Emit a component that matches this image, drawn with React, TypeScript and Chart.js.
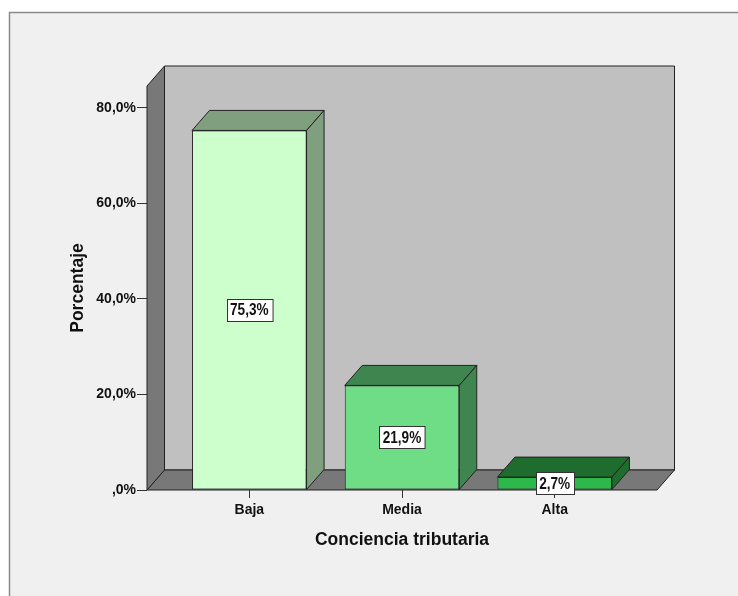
import { useEffect, useRef } from 'react';
import { Chart, registerables } from 'chart.js';

Chart.register(...registerables);

// Survey result: share of respondents by level of tax awareness
const categories = ['Baja', 'Media', 'Alta'];
const percentages = [75.3, 21.9, 2.7];
const valueLabels = ['75,3%', '21,9%', '2,7%'];
const yTickValues = [0, 20, 40, 60, 80];
const yTickLabels = [',0%', '20,0%', '40,0%', '60,0%', '80,0%'];

const frontColors = ['#CCFFCC', '#6FDC86', '#2DB84B'];
const shadeColors = ['#7F9F7F', '#3F8550', '#1E6C2E'];

const DEPTH_X = 17.5;
const DEPTH_Y = -20;
const FONT = "'Liberation Sans', Arial, Helvetica, sans-serif";
const INK = '#111111';
const EDGE = '#222222';

type Pt = [number, number];

function poly(ctx: CanvasRenderingContext2D, pts: Pt[], fill: string) {
  ctx.beginPath();
  ctx.moveTo(pts[0][0], pts[0][1]);
  for (let i = 1; i < pts.length; i++) ctx.lineTo(pts[i][0], pts[i][1]);
  ctx.closePath();
  ctx.fillStyle = fill;
  ctx.fill();
  ctx.strokeStyle = EDGE;
  ctx.lineWidth = 1;
  ctx.stroke();
}

// Grey panel behind the whole chart
const framePlugin = {
  id: 'frame',
  beforeDraw(chart: any) {
    const { ctx, width, height } = chart;
    ctx.save();
    ctx.fillStyle = '#FFFFFF';
    ctx.fillRect(0, 0, width, height);
    ctx.fillStyle = '#F0F0F0';
    ctx.fillRect(9, 12, width, height);
    ctx.strokeStyle = '#8A8A8A';
    ctx.lineWidth = 1.5;
    ctx.strokeRect(9.5, 12.5, width + 20, height + 20);
    ctx.restore();
  },
};

// Back wall, side wall and floor, then the top and side faces of each bar
const boxPlugin = {
  id: 'box3d',
  beforeDatasetsDraw(chart: any) {
    const { ctx } = chart;
    const { left, right, top, bottom } = chart.chartArea;
    const dx = DEPTH_X;
    const dy = DEPTH_Y;
    ctx.save();
    ctx.lineJoin = 'miter';
    poly(ctx, [[left + dx, top + dy], [right + dx, top + dy], [right + dx, bottom + dy], [left + dx, bottom + dy]], '#C0C0C0');
    poly(ctx, [[left, bottom], [right, bottom], [right + dx, bottom + dy], [left + dx, bottom + dy]], '#787878');
    poly(ctx, [[left, bottom], [left, top], [left + dx, top + dy], [left + dx, bottom + dy]], '#787878');

    const meta = chart.getDatasetMeta(0);
    meta.data.forEach((bar: any, i: number) => {
      const { x, y, base, width } = bar.getProps(['x', 'y', 'base', 'width'], true);
      const l = x - width / 2;
      const r = x + width / 2;
      poly(ctx, [[l, y], [r, y], [r + dx, y + dy], [l + dx, y + dy]], shadeColors[i]);
      poly(ctx, [[r, y], [r + dx, y + dy], [r + dx, base + dy], [r, base]], shadeColors[i]);
    });
    ctx.restore();
  },
  afterDatasetsDraw(chart: any) {
    const { ctx } = chart;
    const meta = chart.getDatasetMeta(0);
    const squeeze = 0.85;
    ctx.save();
    ctx.font = `bold 16px ${FONT}`;
    ctx.textAlign = 'center';
    ctx.textBaseline = 'middle';
    meta.data.forEach((bar: any, i: number) => {
      const { x, y, base } = bar.getProps(['x', 'y', 'base'], true);
      const cy = (y + base) / 2;
      const text = valueLabels[i];
      const w = ctx.measureText(text).width * squeeze + 7;
      const h = 22;
      const bx = Math.round(x - w / 2) + 0.5;
      const by = Math.round(cy - h / 2) + 0.5;
      ctx.fillStyle = '#FFFFFF';
      ctx.fillRect(bx, by, w, h);
      ctx.strokeStyle = '#333333';
      ctx.lineWidth = 1;
      ctx.strokeRect(bx, by, w, h);
      ctx.fillStyle = INK;
      ctx.save();
      ctx.translate(x, cy + 1);
      ctx.scale(squeeze, 1);
      ctx.fillText(text, 0, 0);
      ctx.restore();
    });
    ctx.restore();
  },
};

export default function App() {
  const canvasRef = useRef<HTMLCanvasElement | null>(null);

  useEffect(() => {
    const canvas = canvasRef.current;
    if (!canvas) return;

    const chart = new Chart(canvas, {
      type: 'bar',
      data: {
        datasets: [
          {
            data: categories.map((_, i) => ({ x: i + 1, y: percentages[i] })),
            backgroundColor: frontColors,
            borderColor: EDGE,
            borderWidth: 1,
            borderSkipped: false,
            barPercentage: 0.75,
            categoryPercentage: 1,
          },
        ],
      },
      options: {
        responsive: false,
        animation: false,
        events: [],
        layout: { padding: { left: 60, right: 81, top: 86, bottom: 45 } },
        plugins: {
          legend: { display: false },
          tooltip: { enabled: false },
        },
        scales: {
          x: {
            type: 'linear',
            min: 0.33,
            max: 3.67,
            offset: false,
            afterBuildTicks: (axis: any) => {
              axis.ticks = categories.map((_, i) => ({ value: i + 1 }));
            },
            afterFit: (scale: any) => {
              scale.height = 61;
            },
            ticks: {
              autoSkip: false,
              maxRotation: 0,
              padding: 4,
              color: INK,
              font: { family: FONT, size: 14, weight: 'bold' },
              callback: (_v: any, index: number) => categories[index],
            },
            grid: { offset: false, drawOnChartArea: false, drawTicks: true, tickLength: 8, color: '#333333' },
            border: { display: false },
            title: {
              display: true,
              text: 'Conciencia tributaria',
              color: INK,
              font: { family: FONT, size: 17.5, weight: 'bold' },
              padding: { top: 0, bottom: 0.5 },
            },
          },
          y: {
            min: 0,
            max: 84.6,
            afterBuildTicks: (axis: any) => {
              axis.ticks = yTickValues.map((v) => ({ value: v }));
            },
            afterFit: (scale: any) => {
              scale.width = 87;
            },
            ticks: {
              padding: 1,
              color: INK,
              font: { family: FONT, size: 14, weight: 'bold' },
              callback: (_v: any, index: number) => yTickLabels[index],
            },
            grid: { drawOnChartArea: false, drawTicks: true, tickLength: 10, color: '#333333' },
            border: { display: false },
            title: {
              display: true,
              text: 'Porcentaje',
              color: INK,
              font: { family: FONT, size: 17.5, weight: 'bold' },
              padding: { top: 7.5, bottom: 0 },
            },
          },
        },
      },
      plugins: [framePlugin, boxPlugin],
    } as any);

    return () => chart.destroy();
  }, []);

  return (
    <canvas
      ref={canvasRef}
      width={738}
      height={596}
      style={{ position: 'absolute', left: 0, top: 0, width: 738, height: 596 }}
    />
  );
}
